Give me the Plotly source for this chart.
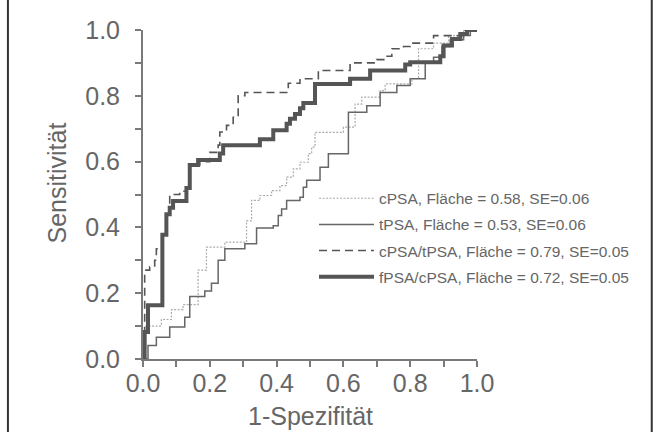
import plotly.graph_objects as go

# ROC staircase corner points (1-specificity, sensitivity), drawn with hv steps
cpsa_x = [0, 0.005, 0.055, 0.085, 0.12, 0.165, 0.19, 0.245, 0.31, 0.325, 0.35, 0.385, 0.41, 0.43,
          0.45, 0.47, 0.495, 0.505, 0.515, 0.6, 0.635, 0.655, 0.71, 0.725, 0.805, 0.825, 0.87, 0.915, 0.96, 1.0]
cpsa_y = [0, 0.10, 0.12, 0.15, 0.165, 0.27, 0.34, 0.355, 0.42, 0.482, 0.497, 0.512, 0.527, 0.553,
          0.578, 0.598, 0.624, 0.644, 0.689, 0.705, 0.775, 0.796, 0.816, 0.836, 0.852, 0.943, 0.96, 0.983, 1.0, 1.0]

tpsa_x = [0, 0.015, 0.04, 0.08, 0.125, 0.14, 0.185, 0.205, 0.225, 0.245, 0.305, 0.34, 0.39, 0.405,
          0.415, 0.43, 0.47, 0.48, 0.49, 0.53, 0.555, 0.615, 0.67, 0.71, 0.76, 0.8, 0.845, 0.87, 0.895,
          0.92, 0.96, 0.98, 1.0]
tpsa_y = [0, 0.041, 0.066, 0.097, 0.127, 0.19, 0.207, 0.23, 0.30, 0.335, 0.35, 0.398, 0.405, 0.436,
          0.456, 0.482, 0.492, 0.522, 0.543, 0.583, 0.624, 0.75, 0.77, 0.81, 0.831, 0.852, 0.902, 0.917, 0.95,
          0.97, 0.983, 1.0, 1.0]

ratio_ct_x = [0, 0.005, 0.02, 0.035, 0.04, 0.06, 0.07, 0.08, 0.11, 0.13, 0.14, 0.17, 0.2, 0.225,
              0.23, 0.25, 0.27, 0.285, 0.305, 0.435, 0.47, 0.525, 0.62, 0.7, 0.725, 0.745, 0.78, 0.8,
              0.87, 0.96, 1.0]
ratio_ct_y = [0, 0.27, 0.28, 0.30, 0.335, 0.38, 0.44, 0.50, 0.51, 0.525, 0.59, 0.60, 0.628, 0.65,
              0.69, 0.71, 0.735, 0.80, 0.81, 0.838, 0.852, 0.877, 0.90, 0.91, 0.92, 0.943, 0.95, 0.96,
              0.983, 1.0, 1.0]

ratio_fc_x = [0, 0.005, 0.015, 0.058, 0.07, 0.08, 0.09, 0.13, 0.14, 0.165, 0.23, 0.24, 0.35, 0.39,
              0.43, 0.44, 0.455, 0.47, 0.48, 0.515, 0.62, 0.68, 0.785, 0.8, 0.89, 0.9, 0.925, 0.95,
              0.97, 1.0]
ratio_fc_y = [0, 0.082, 0.163, 0.378, 0.44, 0.46, 0.48, 0.52, 0.59, 0.605, 0.625, 0.65, 0.668, 0.695,
              0.715, 0.73, 0.745, 0.762, 0.778, 0.836, 0.852, 0.877, 0.895, 0.902, 0.92, 0.953, 0.973,
              0.988, 1.0, 1.0]

series_names = [
    "cPSA, Fläche = 0.58, SE=0.06",
    "tPSA, Fläche = 0.53, SE=0.06",
    "cPSA/tPSA, Fläche = 0.79, SE=0.05",
    "fPSA/cPSA, Fläche = 0.72, SE=0.05",
]

tick_vals = [i / 10 for i in range(11)]
tick_text = [f"{v:.1f}" if i % 2 == 0 else "" for i, v in enumerate(tick_vals)]

FONT = "Liberation Sans, Arial, sans-serif"
AXIS_COL = "#7a7a7a"
TEXT_COL = "#666666"

styles = [
    dict(color="#ababab", width=1.2, dash="2px,1.5px"),
    dict(color="#666666", width=1.5, dash="solid"),
    dict(color="#555555", width=1.6, dash="8px,5px"),
    dict(color="#555555", width=4, dash="solid"),
]
data = [(cpsa_x, cpsa_y), (tpsa_x, tpsa_y), (ratio_ct_x, ratio_ct_y), (ratio_fc_x, ratio_fc_y)]

fig = go.Figure()
for i, ((xs, ys), name, st) in enumerate(zip(data, series_names, styles)):
    fig.add_trace(go.Scatter(
        x=xs, y=ys, mode="lines", name=name, line=dict(shape="hv", **st),
        legendgroup=f"g{i}", cliponaxis=False,
    ))

axis_common = dict(
    range=[0, 1], tickvals=tick_vals, ticktext=tick_text, showgrid=False, zeroline=False,
    showline=True, linecolor=AXIS_COL, linewidth=2, ticks="outside", ticklen=6, tickwidth=1.5,
    tickcolor=AXIS_COL, tickfont=dict(family=FONT, size=25, color=TEXT_COL),
)
# second pair of axes carries the inner half of each tick so ticks cross the axis line
inner_common = dict(
    range=[0, 1], tickvals=tick_vals, showticklabels=False, showgrid=False, zeroline=False,
    showline=False, ticks="inside", ticklen=4, tickwidth=1.5, tickcolor=AXIS_COL,
)

fig.update_layout(
    width=657, height=432,
    margin=dict(l=143, r=180, t=30, b=73),
    paper_bgcolor="white", plot_bgcolor="white",
    xaxis=dict(**axis_common, ticklabelstandoff=-5),
    yaxis=dict(**axis_common, ticklabelstandoff=10),
    xaxis2=dict(**inner_common, overlaying="x", anchor="y"),
    yaxis2=dict(**inner_common, overlaying="y", anchor="x"),
    showlegend=True,
    legend=dict(
        x=0.512, xanchor="left", y=0.539, yanchor="top", traceorder="grouped",
        tracegroupgap=3, itemwidth=55, bgcolor="rgba(0,0,0,0)",
        font=dict(family=FONT, size=15.5, color=TEXT_COL),
    ),
    annotations=[
        dict(text="1-Spezifität", x=0.5, y=-0.172, xref="paper", yref="paper", showarrow=False,
             font=dict(family=FONT, size=25, color=TEXT_COL), xanchor="center", yanchor="middle"),
        dict(text="Sensitivität", x=-0.259, y=0.535, xref="paper", yref="paper", showarrow=False,
             textangle=-90, font=dict(family=FONT, size=25, color=TEXT_COL),
             xanchor="center", yanchor="middle"),
    ],
    shapes=[
        dict(type="line", xref="paper", yref="paper", x0=-0.4044, x1=-0.4044, y0=-0.23, y1=1.1,
             line=dict(color="#333333", width=2)),
        dict(type="line", xref="paper", yref="paper", x0=1.5232, x1=1.5232, y0=-0.23, y1=1.1,
             line=dict(color="#333333", width=2)),
    ],
)

fig.write_html("out.html")
